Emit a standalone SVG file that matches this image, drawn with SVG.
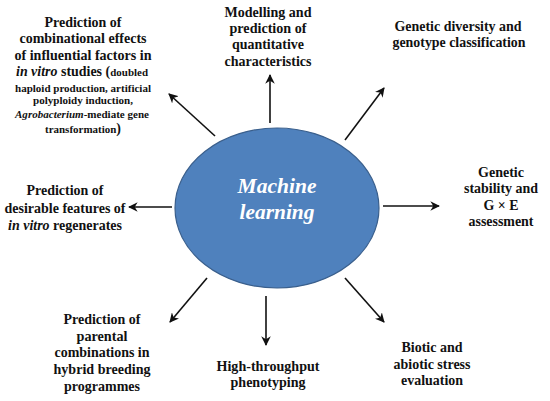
<svg xmlns="http://www.w3.org/2000/svg" width="550" height="401" viewBox="0 0 550 401" font-family="'Liberation Serif', Tinos, 'Times New Roman', Times, 'DejaVu Serif', serif">
<style>
text{font-family:'Liberation Serif',Tinos,'Times New Roman',Times,'DejaVu Serif',serif}
.t{font-weight:bold;font-size:14px;fill:#111;text-anchor:middle}
.s{font-size:11px}
.i{font-style:italic}
.c{stroke:#111;stroke-width:1.6;fill:none;marker-end:url(#ah)}
.ml{font-weight:bold;font-style:italic;font-size:21px;fill:#fff;text-anchor:middle}
</style>
<defs>
<marker id="ah" viewBox="0 0 10 10" refX="9" refY="5" markerWidth="6" markerHeight="6" orient="auto" markerUnits="strokeWidth">
<path d="M0,0 L10,5 L0,10 L3,5 z" fill="#111"/>
</marker>
</defs>
<rect width="550" height="401" fill="#fff"/>
<g id="connectors">
<line class="c" x1="270" y1="123" x2="270" y2="75"/>
<line class="c" x1="345" y1="140" x2="384" y2="88"/>
<line class="c" x1="383" y1="206" x2="439" y2="206"/>
<line class="c" x1="345" y1="278" x2="384" y2="322"/>
<line class="c" x1="266" y1="296" x2="266" y2="345"/>
<line class="c" x1="207" y1="278" x2="170" y2="322"/>
<line class="c" x1="172" y1="207" x2="129" y2="207"/>
<line class="c" x1="215" y1="136" x2="169" y2="94"/>
</g>
<g id="center">
<ellipse cx="277" cy="208" rx="102" ry="80" fill="#4f81bd" stroke="#3a5f8c" stroke-width="1.2"/>
<text class="ml" x="277" y="193" textLength="79" lengthAdjust="spacingAndGlyphs">Machine</text>
<text class="ml" x="277" y="219" textLength="75" lengthAdjust="spacingAndGlyphs">learning</text>
</g>
<g id="n-invitro">
<text class="t" x="83" y="27" textLength="77" lengthAdjust="spacingAndGlyphs">Prediction of</text>
<text class="t" x="83" y="43" textLength="127" lengthAdjust="spacingAndGlyphs">combinational effects</text>
<text class="t" x="83" y="60" textLength="137" lengthAdjust="spacingAndGlyphs">of influential factors in</text>
<text class="t" x="82" y="76" textLength="132" lengthAdjust="spacingAndGlyphs"><tspan class="i">in vitro</tspan> studies (<tspan class="s">doubled</tspan></text>
<text class="t s" x="83" y="92" textLength="136" lengthAdjust="spacingAndGlyphs">haploid production, artificial</text>
<text class="t s" x="83" y="104" textLength="100" lengthAdjust="spacingAndGlyphs">polyploidy induction,</text>
<text class="t s" x="82" y="118" textLength="134" lengthAdjust="spacingAndGlyphs"><tspan class="i">Agrobacterium</tspan>-mediate gene</text>
<text class="t" x="83" y="133" textLength="76" lengthAdjust="spacingAndGlyphs"><tspan class="s">transformation</tspan>)</text>
</g>
<g id="n-quant">
<text class="t" x="268" y="17" textLength="87" lengthAdjust="spacingAndGlyphs">Modelling and</text>
<text class="t" x="268" y="33" textLength="77" lengthAdjust="spacingAndGlyphs">prediction of</text>
<text class="t" x="268" y="49" textLength="72" lengthAdjust="spacingAndGlyphs">quantitative</text>
<text class="t" x="268" y="66" textLength="87" lengthAdjust="spacingAndGlyphs">characteristics</text>
</g>
<g id="n-diversity">
<text class="t" x="458" y="31" textLength="127" lengthAdjust="spacingAndGlyphs">Genetic diversity and</text>
<text class="t" x="459" y="47" textLength="133" lengthAdjust="spacingAndGlyphs">genotype classification</text>
</g>
<g id="n-stability">
<text class="t" x="501" y="177" textLength="46" lengthAdjust="spacingAndGlyphs">Genetic</text>
<text class="t" x="501" y="193" textLength="74" lengthAdjust="spacingAndGlyphs">stability and</text>
<text class="t" x="501" y="210" textLength="35" lengthAdjust="spacingAndGlyphs">G × E</text>
<text class="t" x="501" y="226" textLength="65" lengthAdjust="spacingAndGlyphs">assessment</text>
</g>
<g id="n-stress">
<text class="t" x="432" y="352" textLength="61" lengthAdjust="spacingAndGlyphs">Biotic and</text>
<text class="t" x="432" y="369" textLength="77" lengthAdjust="spacingAndGlyphs">abiotic stress</text>
<text class="t" x="432" y="385" textLength="62" lengthAdjust="spacingAndGlyphs">evaluation</text>
</g>
<g id="n-phenotyping">
<text class="t" x="268" y="371" textLength="103" lengthAdjust="spacingAndGlyphs">High-throughput</text>
<text class="t" x="268" y="387" textLength="75" lengthAdjust="spacingAndGlyphs">phenotyping</text>
</g>
<g id="n-parental">
<text class="t" x="102" y="324" textLength="77" lengthAdjust="spacingAndGlyphs">Prediction of</text>
<text class="t" x="102" y="341" textLength="51" lengthAdjust="spacingAndGlyphs">parental</text>
<text class="t" x="102" y="357" textLength="95" lengthAdjust="spacingAndGlyphs">combinations in</text>
<text class="t" x="102" y="374" textLength="97" lengthAdjust="spacingAndGlyphs">hybrid breeding</text>
<text class="t" x="102" y="391" textLength="76" lengthAdjust="spacingAndGlyphs">programmes</text>
</g>
<g id="n-regenerates">
<text class="t" x="65" y="195" textLength="77" lengthAdjust="spacingAndGlyphs">Prediction of</text>
<text class="t" x="65" y="213" textLength="121" lengthAdjust="spacingAndGlyphs">desirable features of</text>
<text class="t" x="65" y="230" textLength="114" lengthAdjust="spacingAndGlyphs"><tspan class="i">in vitro</tspan> regenerates</text>
</g>
</svg>
